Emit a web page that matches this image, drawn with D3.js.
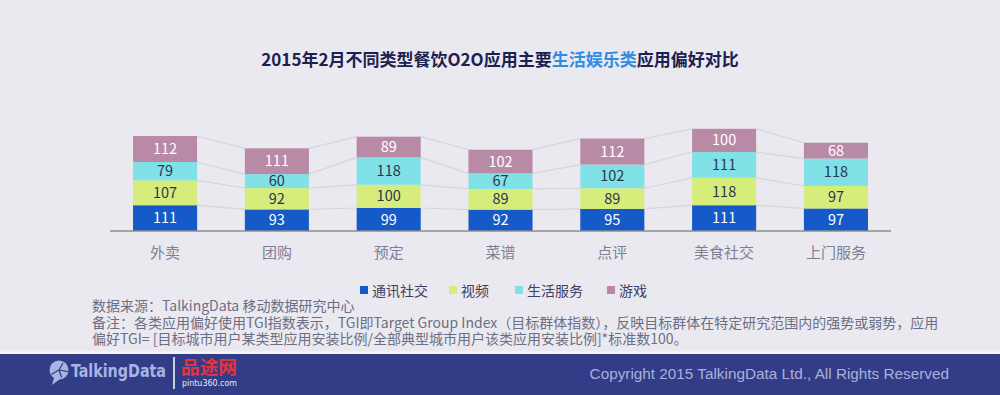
<!DOCTYPE html>
<html lang="zh">
<head>
  <meta charset="UTF-8">
  <title>2015年2月不同类型餐饮O2O应用主要生活娱乐类应用偏好对比</title>
  <script src="https://d3js.org/d3.v7.min.js"></script>
  <style>
    body { margin: 0; background: #ebe9f0; }
    svg { display: block; font-family: "Noto Sans CJK SC", "Noto Sans", sans-serif; }
  </style>
</head>
<body>
  <svg width="1000" height="395"></svg>

  <script>
    const categories = ["外卖", "团购", "预定", "菜谱", "点评", "美食社交", "上门服务"];
    const seriesNames = ["通讯社交", "视频", "生活服务", "游戏"];
    const social  = [111, 93, 99, 92, 95, 111, 97];
    const video   = [107, 92, 100, 89, 89, 118, 97];
    const life    = [79, 60, 118, 67, 102, 111, 118];
    const games   = [112, 111, 89, 102, 112, 100, 68];

    const colors = ["#1659c9", "#d6ed7c", "#80e2e7", "#b98aa6"];
    const labelColors = ["#ffffff", "#2b3550", "#2b3550", "#ffffff"];

    const svg = d3.select("svg");

    // title, with the highlighted part in light blue
    const title = svg.append("text")
      .attr("x", 500).attr("y", 66)
      .attr("text-anchor", "middle")
      .attr("font-size", 17).attr("font-weight", "bold")
      .attr("fill", "#1b2150");
    title.append("tspan").text("2015年2月不同类型餐饮O2O应用主要");
    title.append("tspan").attr("fill", "#2b8de3").text("生活娱乐类");
    title.append("tspan").text("应用偏好对比");

    const table = categories.map((c, i) => ({
      cat: c, social: social[i], video: video[i], life: life[i], games: games[i]
    }));
    const keys = ["social", "video", "life", "games"];
    const stacked = d3.stack().keys(keys)(table);

    const x = d3.scaleBand().domain(categories).range([110, 891])
      .paddingInner(0.427).paddingOuter(0.206);
    const y = d3.scaleLinear().domain([0, 440]).range([231, 128.8]);

    // connector lines between neighbouring bars
    const conn = svg.append("g");
    stacked.forEach(layer => {
      for (let i = 0; i < layer.length - 1; i++) {
        conn.append("line")
          .attr("x1", x(categories[i]) + x.bandwidth())
          .attr("y1", y(layer[i][1]))
          .attr("x2", x(categories[i + 1]))
          .attr("y2", y(layer[i + 1][1]))
          .attr("stroke", "#d6d5dc").attr("stroke-width", 1.2);
      }
    });

    // stacked bars
    const layers = svg.append("g").selectAll("g")
      .data(stacked).enter().append("g")
      .attr("fill", (d, i) => colors[i]);

    layers.selectAll("rect")
      .data(d => d).enter().append("rect")
      .attr("x", d => x(d.data.cat))
      .attr("y", d => y(d[1]))
      .attr("width", x.bandwidth())
      .attr("height", d => y(d[0]) - y(d[1]));

    layers.each(function(layer, li) {
      d3.select(this).selectAll("text")
        .data(layer).enter().append("text")
        .attr("x", d => x(d.data.cat) + x.bandwidth() / 2)
        .attr("y", d => (y(d[0]) + y(d[1])) / 2 + 5)
        .attr("text-anchor", "middle")
        .attr("font-size", 14.5)
        .attr("fill", labelColors[li])
        .text(d => d[1] - d[0]);
    });

    // axis
    const axis = svg.append("g").attr("transform", "translate(0,231)")
      .call(d3.axisBottom(x).tickSize(0).tickPadding(16));
    axis.select(".domain").attr("stroke", "#8c8c8c").attr("stroke-width", 1.5)
      .attr("d", "M110,0H891");
    axis.selectAll("text")
      .attr("font-size", 15).attr("fill", "#7d7f95")
      .attr("font-family", "Noto Sans CJK SC, sans-serif");

    // legend
    const legendX = [360, 449, 515, 607];
    const legend = svg.append("g").selectAll("g")
      .data(seriesNames).enter().append("g")
      .attr("transform", (d, i) => `translate(${legendX[i]},0)`);
    legend.append("rect").attr("y", 286).attr("width", 8).attr("height", 8)
      .attr("fill", (d, i) => colors[i]);
    legend.append("text").attr("x", 12).attr("y", 296)
      .attr("font-size", 14).attr("fill", "#3d4060").text(d => d);

    // notes
    const notes = [
      "数据来源：TalkingData 移动数据研究中心",
      "备注：各类应用偏好使用TGI指数表示，TGI即Target Group Index（目标群体指数），反映目标群体在特定研究范围内的强势或弱势，应用",
      "偏好TGI= [目标城市用户某类型应用安装比例/全部典型城市用户该类应用安装比例]*标准数100。"
    ];
    svg.append("g").selectAll("text")
      .data(notes).enter().append("text")
      .attr("x", 92).attr("y", (d, i) => 311 + i * 16.5)
      .attr("font-size", 14).attr("fill", "#6c6e84")
      .text(d => d);

    // footer band
    svg.append("rect").attr("x", 0).attr("y", 354).attr("width", 1000).attr("height", 41)
      .attr("fill", "#333c86");
    svg.append("line").attr("x1", 0).attr("x2", 1000).attr("y1", 352.5).attr("y2", 352.5)
      .attr("stroke", "#f6f6f9").attr("stroke-width", 2);

    // TalkingData logo
    const logo = svg.append("g").attr("fill", "#a8b5e2");
    logo.append("circle").attr("cx", 59).attr("cy", 370).attr("r", 9.5);
    logo.append("path").attr("d", "M54,378 L52,385 L60,379 Z");
    [[-60, 8], [10, 9], [70, 8], [150, 9]].forEach(([a, r]) => {
      const t = a * Math.PI / 180;
      logo.append("line")
        .attr("x1", 59).attr("y1", 370)
        .attr("x2", 59 + r * Math.cos(t)).attr("y2", 370 + r * Math.sin(t))
        .attr("stroke", "#333c86").attr("stroke-width", 1.2);
    });
    svg.append("text").attr("x", 71).attr("y", 377)
      .attr("font-family", "DejaVu Sans Condensed, sans-serif")
      .attr("font-weight", "bold").attr("font-size", 18).attr("fill", "#a8b5e2")
      .attr("textLength", 95).attr("lengthAdjust", "spacingAndGlyphs")
      .text("TalkingData");
    svg.append("line").attr("x1", 174).attr("x2", 174).attr("y1", 357).attr("y2", 389)
      .attr("stroke", "#ffffff").attr("stroke-width", 1.5);
    svg.append("text").attr("x", 181).attr("y", 374)
      .attr("font-family", "Noto Sans CJK SC, sans-serif").attr("font-weight", "bold")
      .attr("font-size", 18).attr("fill", "#e5343b")
      .attr("textLength", 56).attr("lengthAdjust", "spacingAndGlyphs")
      .text("品途网");
    svg.append("text").attr("x", 182).attr("y", 386)
      .attr("font-family", "DejaVu Sans, sans-serif")
      .attr("font-size", 8).attr("fill", "#e8e8f2")
      .attr("textLength", 55).attr("lengthAdjust", "spacingAndGlyphs")
      .text("pintu360.com");

    svg.append("text").attr("x", 949).attr("y", 379)
      .attr("text-anchor", "end")
      .attr("font-family", "Liberation Sans, Arial, sans-serif")
      .attr("font-size", 15.3).attr("fill", "#a9b1da")
      .text("Copyright 2015 TalkingData Ltd., All Rights Reserved");
  </script>
</body>
</html>
